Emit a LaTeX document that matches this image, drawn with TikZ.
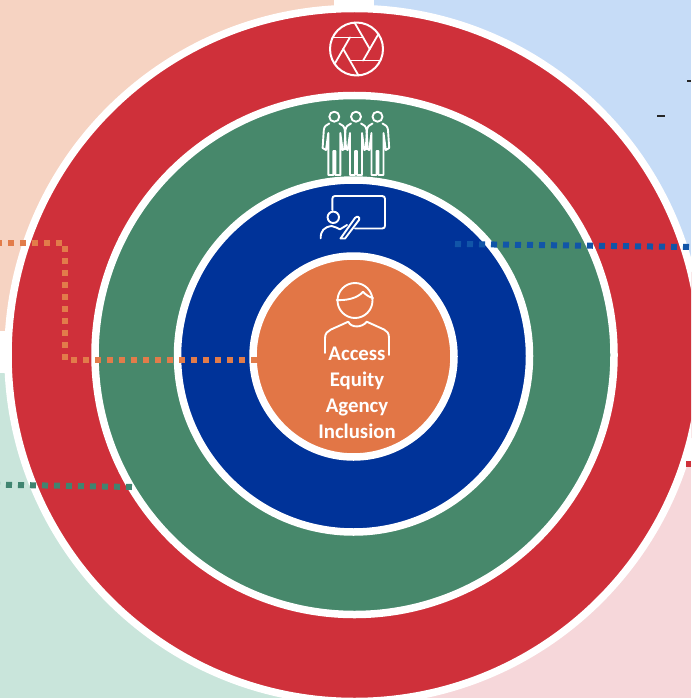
\documentclass[tikz,border=0pt]{standalone}
\usepackage{fontspec}
\setmainfont{Carlito}
\definecolor{cred}{HTML}{CF303A}
\definecolor{cgreen}{HTML}{47886B}
\definecolor{cblue}{HTML}{003399}
\definecolor{corange}{HTML}{E27646}
\definecolor{bgpeach}{HTML}{F6D3C2}
\definecolor{bgblue}{HTML}{C6DCF7}
\definecolor{bggreen}{HTML}{C9E5DB}
\definecolor{bgpink}{HTML}{F6D7DA}
\definecolor{dgreen}{HTML}{408470}
\definecolor{dblue}{HTML}{1155A8}
\definecolor{dorange}{HTML}{E27C4A}
\tikzset{x=1pt,y=-1pt,
 ring/.style={circle,draw=white,line width=7.5pt,inner sep=0pt,outer sep=0pt},
 dots/.style={line width=6pt,dash pattern=on 6pt off 6pt},
 icon/.style={draw=white,line width=2pt,line cap=round,line join=round},
 thinicon/.style={draw=white,line width=1.9pt,line cap=round,line join=round},
 lbl/.style={text=white,font=\bfseries\fontsize{20.8}{20.8}\selectfont,inner sep=0pt,anchor=base}}
\begin{document}
\begin{tikzpicture}
\useasboundingbox (0,0) rectangle (691,698);
\clip (0,0) rectangle (691,698);
\fill[white] (0,0) rectangle (691,698);
\fill[bgpeach] (0,0) rectangle (334,331);
\fill[bgblue] (374,0) rectangle (691,330);
\fill[bggreen] (0,373) rectangle (334,698);
\fill[bgpink] (374,467) rectangle (691,698);
% rings
\node[ring,fill=cred,minimum size=693pt] (outer) at (354.5,355) {};
\node[ring,fill=cgreen,minimum size=519pt] (green) at (354.5,355) {};
\node[ring,fill=cblue,minimum size=352pt] (blue) at (353.5,356) {};
\node[ring,fill=corange,minimum size=201pt] (core) at (353.5,356.5) {};
% dotted leaders
\coordinate (oa) at (-4,243.3);
\coordinate (ob) at (62,243.3);
\coordinate (oc) at (64.7,246.3);
\coordinate (od) at (64.7,361);
\coordinate (oe) at (71.3,360);
\coordinate (of) at (257,360);
\draw[dots,dorange] (oa) -- (ob);
\draw[dots,dorange] (oc) -- (od);
\draw[dots,dorange] (oe) -- (of);
\coordinate (ga) at (-6,484.6);
\coordinate (gb) at (132,487);
\draw[dots,dgreen] (ga) -- (gb);
\coordinate (ba) at (455,244);
\coordinate (bb) at (691,247);
\draw[dots,dblue] (ba) -- (bb);
\coordinate (ra) at (686,464);
\coordinate (rb) at (691,464);
\draw[line width=5.5pt,cred] (ra) -- (rb);
% stray dashes
\coordinate (d1a) at (657,115.7); \coordinate (d1b) at (664.5,115.7);
\coordinate (d2a) at (687,81.3); \coordinate (d2b) at (691,81.3);
\draw[line width=1.8pt,black!85] (d1a) -- (d1b);
\draw[line width=1.8pt,black!85] (d2a) -- (d2b);
% aperture icon
\begin{scope}[shift={(356.5,49)}]
\draw[icon] (0,0) circle (26.5);
\foreach \a in {0,60,...,300}{
 \begin{scope}[rotate=\a]
 \draw[icon,line width=1.8pt] (-23.9,-11.5) -- (6.8,-11.5);
 \end{scope}
}
\end{scope}
% people
\foreach \cx in {334.3,356,377.5}{
\begin{scope}[shift={(\cx,0)}]
\draw[thinicon] (0,116.7) circle (5);
\draw[thinicon] (-5,123.5) .. controls (-8,125) and (-10,126) .. (-10.5,130) -- (-11.7,148) -- (-8.3,150) -- (-6,133) -- (-6,175) -- (-1,175) -- (-1,151) -- (1,151) -- (1,175) -- (6,175) -- (6,133) -- (8.3,150) -- (11.7,148) -- (10.5,130) .. controls (10,126) and (8,125) .. (5,123.5);
\end{scope}}
% teacher
\draw[thinicon] (332.3,210) -- (332.3,199) .. controls (332.3,197) and (333.5,196) .. (335,196) -- (382,196) .. controls (384,196) and (385,197) .. (385,199) -- (385,225.5) .. controls (385,227.5) and (384,228.5) .. (382,228.5) -- (355,228.5);
\draw[thinicon] (333.3,217.3) circle (5.7);
\draw[thinicon] (320.7,238.3) .. controls (320.5,231) and (324,227) .. (331.7,226) .. controls (335,227) and (338,228) .. (340,229.3) -- (347,225);
\draw[thinicon] (340.5,238.5) -- (355,218) .. controls (357,215.5) and (360.5,217) .. (359,220) -- (345,238.5) -- cycle;
% person
\draw[thinicon] (355,300.5) circle (17.5);
\draw[thinicon] (336.7,300) .. controls (345,300.5) and (357,299) .. (363,291.7) .. controls (366,295) and (369,297) .. (373,298);
\draw[thinicon] (325,353) -- (325,338) .. controls (325,333) and (328,331) .. (331,329.5) -- (348.3,321.7) .. controls (351,328) and (362,328) .. (366.7,321.7) -- (384,329.5) .. controls (387,331) and (389,333) .. (389,338) -- (389,355);
% labels
\node[lbl] (l1) at (357,360) {Access};
\node[lbl] (l2) at (357,386) {Equity};
\node[lbl] (l3) at (357,412) {Agency};
\node[lbl] (l4) at (357,438) {Inclusion};
\end{tikzpicture}
\end{document}
